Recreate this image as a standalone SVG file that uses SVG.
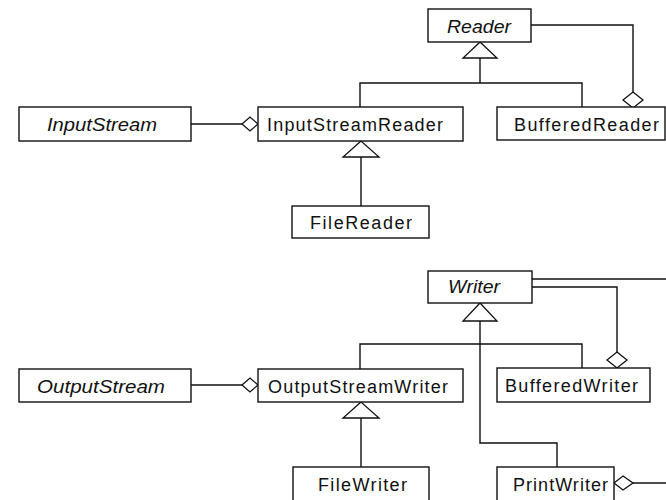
<svg xmlns="http://www.w3.org/2000/svg" width="666" height="500" viewBox="0 0 666 500">
<style>
  .box { fill: #fff; stroke: #111; stroke-width: 1.4; }
  .ln { fill: none; stroke: #111; stroke-width: 1.4; }
  .tri, .dia { fill: #fff; stroke: #111; stroke-width: 1.3; }
  text { font-family: "Liberation Sans", Arial, sans-serif; font-size: 18px; fill: #111; }
  .abs { font-style: italic; }
</style>
<rect width="666" height="500" fill="#fff"/>
<g id="connectors">
  <!-- Reader generalization -->
  <polyline class="ln" points="480,58 480,83"/>
  <polyline class="ln" points="360,107 360,83 582,83 582,107"/>
  <polygon class="tri" points="480,42 463,58 497,58"/>
  <!-- Reader aggregation in BufferedReader -->
  <polyline class="ln" points="531,25 633,25 633,92"/>
  <polygon class="dia" points="633,92 643,100 633,108 623,100"/>
  <!-- InputStream aggregation -->
  <polyline class="ln" points="191,124 242,124"/>
  <polygon class="dia" points="242,124 250,117 258,124 250,131"/>
  <!-- FileReader generalization -->
  <polyline class="ln" points="361,157 361,206"/>
  <polygon class="tri" points="361,141 343,157 379,157"/>
  <!-- Writer generalization -->
  <polyline class="ln" points="360,369 360,344 582,344 582,368"/>
  <polyline class="ln" points="480,321 480,443 557,443 557,467"/>
  <polygon class="tri" points="480,303 463,321 497,321"/>
  <!-- Writer aggregation in BufferedWriter -->
  <polyline class="ln" points="532,287 617,287 617,352"/>
  <polygon class="dia" points="617,352 627,360 617,368 607,360"/>
  <!-- Writer aggregation in PrintWriter -->
  <polyline class="ln" points="532,279 667,279"/>
  <polyline class="ln" points="633,483 667,483"/>
  <polygon class="dia" points="614,483 623,476 633,483 623,490"/>
  <!-- OutputStream aggregation -->
  <polyline class="ln" points="191,385 242,385"/>
  <polygon class="dia" points="242,385 250,378 258,385 250,392"/>
  <!-- FileWriter generalization -->
  <polyline class="ln" points="361,418 361,467"/>
  <polygon class="tri" points="361,402 343,418 379,418"/>
</g>
<g id="Reader">
  <rect class="box" x="428" y="9" width="103" height="33"/>
  <text class="abs" x="447" y="33" textLength="64" lengthAdjust="spacingAndGlyphs">Reader</text>
</g>
<g id="InputStream">
  <rect class="box" x="19" y="107" width="172" height="34"/>
  <text class="abs" x="47" y="131" textLength="110" lengthAdjust="spacingAndGlyphs">InputStream</text>
</g>
<g id="InputStreamReader">
  <rect class="box" x="258" y="107" width="205" height="34"/>
  <text x="267" y="131" textLength="176" lengthAdjust="spacing">InputStreamReader</text>
</g>
<g id="BufferedReader">
  <rect class="box" x="497" y="107" width="168" height="33"/>
  <text x="514" y="131" textLength="145" lengthAdjust="spacing">BufferedReader</text>
</g>
<g id="FileReader">
  <rect class="box" x="292" y="206" width="137" height="32"/>
  <text x="310" y="229" textLength="102" lengthAdjust="spacing">FileReader</text>
</g>
<g id="Writer">
  <rect class="box" x="428" y="271" width="104" height="32"/>
  <text class="abs" x="448" y="293" textLength="52" lengthAdjust="spacingAndGlyphs">Writer</text>
</g>
<g id="OutputStream">
  <rect class="box" x="19" y="369" width="172" height="33"/>
  <text class="abs" x="37" y="393" textLength="128" lengthAdjust="spacingAndGlyphs">OutputStream</text>
</g>
<g id="OutputStreamWriter">
  <rect class="box" x="258" y="369" width="205" height="33"/>
  <text x="268" y="393" textLength="180" lengthAdjust="spacing">OutputStreamWriter</text>
</g>
<g id="BufferedWriter">
  <rect class="box" x="497" y="368" width="153" height="34"/>
  <text x="505" y="392" textLength="133" lengthAdjust="spacing">BufferedWriter</text>
</g>
<g id="FileWriter">
  <rect class="box" x="293" y="467" width="136" height="36"/>
  <text x="318" y="491" textLength="89" lengthAdjust="spacing">FileWriter</text>
</g>
<g id="PrintWriter">
  <rect class="box" x="497" y="467" width="117" height="36"/>
  <text x="513" y="491" textLength="95" lengthAdjust="spacing">PrintWriter</text>
</g>
</svg>
